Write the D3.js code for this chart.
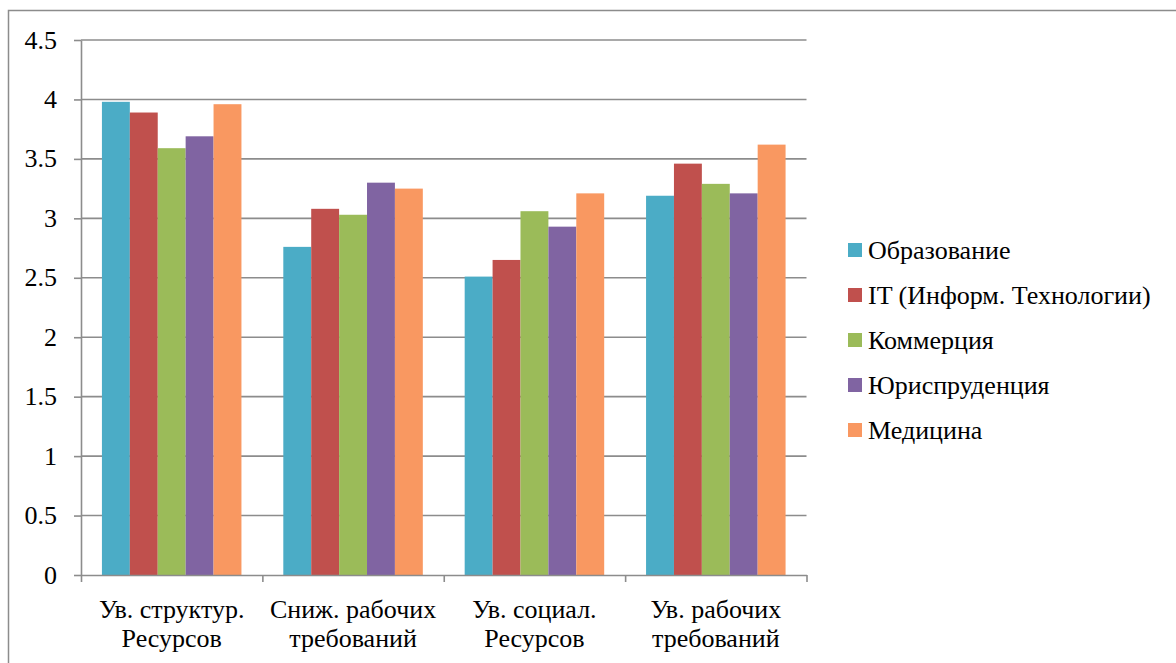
<!DOCTYPE html>
<html>
<head>
<meta charset="utf-8">
<script src="https://cdn.jsdelivr.net/npm/d3@7"></script>
</head>
<body style="margin:0">
<svg id="s" width="1176" height="663"></svg>
<script>
// Categories (two-line labels) and series
const categories = [
  ["Ув. структур.", "Ресурсов"],
  ["Сниж. рабочих", "требований"],
  ["Ув. социал.", "Ресурсов"],
  ["Ув. рабочих", "требований"]
];
const seriesNames = ["Образование", "IT (Информ. Технологии)", "Коммерция", "Юриспруденция", "Медицина"];
const seriesColors = ["#4BACC6", "#C0504D", "#9BBB59", "#8064A2", "#F99861"];

const education   = [3.98, 2.76, 2.51, 3.19];
const itTech      = [3.89, 3.08, 2.65, 3.46];
const commerce    = [3.59, 3.03, 3.06, 3.29];
const law         = [3.69, 3.30, 2.93, 3.21];
const medicine    = [3.96, 3.25, 3.21, 3.62];
const seriesValues = [education, itTech, commerce, law, medicine];

const yTicks = [0, 0.5, 1, 1.5, 2, 2.5, 3, 3.5, 4, 4.5];
const yTickLabels = ["0", "0.5", "1", "1.5", "2", "2.5", "3", "3.5", "4", "4.5"];

const FONT = '26px "Liberation Serif"';

const svg = d3.select("#s");
const plot = { left: 81, right: 806.5, top: 40, bottom: 575 };
const gridColor = "#8c8c8c";

// Outer frame
svg.append("rect")
  .attr("x", 8.5).attr("y", 10.5)
  .attr("width", 1300).attr("height", 800)
  .attr("fill", "none").attr("stroke", gridColor).attr("stroke-width", 1.5);

const x0 = d3.scaleBand()
  .domain(d3.range(categories.length))
  .range([plot.left, plot.right])
  .paddingInner(0).paddingOuter(0);

// 150% gap width between groups
const gapRatio = 1.5;
const barW = x0.bandwidth() / (seriesNames.length + gapRatio);
const x1 = d3.scaleBand()
  .domain(d3.range(seriesNames.length))
  .range([barW * gapRatio / 2, barW * gapRatio / 2 + barW * seriesNames.length])
  .padding(0);

const y = d3.scaleLinear().domain([0, 4.5]).range([plot.bottom, plot.top]);

// Horizontal gridlines
svg.append("g")
  .selectAll("line")
  .data(yTicks.filter(t => t > 0))
  .join("line")
  .attr("x1", plot.left).attr("x2", plot.right)
  .attr("y1", d => y(d)).attr("y2", d => y(d))
  .attr("stroke", gridColor).attr("stroke-width", 1.6);

// Bars
const groups = svg.append("g")
  .selectAll("g")
  .data(categories.map((c, i) => i))
  .join("g")
  .attr("transform", i => `translate(${x0(i)},0)`);

groups.selectAll("rect")
  .data(ci => seriesValues.map((vals, si) => ({ si, v: vals[ci] })))
  .join("rect")
  .attr("x", d => x1(d.si))
  .attr("width", x1.bandwidth())
  .attr("y", d => y(d.v))
  .attr("height", d => y(0) - y(d.v))
  .attr("fill", d => seriesColors[d.si]);

// Y axis line and ticks
const yg = svg.append("g").attr("transform", `translate(${plot.left},0)`)
  .call(d3.axisLeft(y).tickValues(yTicks).tickFormat("").tickSize(7).tickSizeOuter(0));
yg.selectAll("path, line").attr("stroke", gridColor).attr("stroke-width", 1.6);

// Y tick labels, right-aligned
svg.selectAll("text.ylab")
  .data(yTicks)
  .join("text")
  .attr("class", "ylab")
  .attr("x", 57)
  .attr("y", d => y(d) + 8.5)
  .attr("text-anchor", "end")
  .style("font", FONT)
  .text((d, i) => yTickLabels[i]);

// X axis with tick marks at category boundaries
const xBound = d3.scaleLinear().domain([0, categories.length]).range([plot.left, plot.right]);
const xg = svg.append("g").attr("transform", `translate(0,${plot.bottom})`)
  .call(d3.axisBottom(xBound).tickValues(d3.range(categories.length + 1)).tickFormat("").tickSize(7).tickSizeOuter(0));
xg.selectAll("path, line").attr("stroke", gridColor).attr("stroke-width", 1.6);

// Category labels, two centred lines each
const catLines = categories.flatMap((lines, ci) => lines.map((text, li) => ({ ci, li, text })));
svg.selectAll("text.cat")
  .data(catLines)
  .join("text")
  .attr("class", "cat")
  .attr("x", d => x0(d.ci) + x0.bandwidth() / 2)
  .attr("y", d => 618 + d.li * 29)
  .attr("text-anchor", "middle")
  .style("font", FONT)
  .text(d => d.text);

// Legend
const legendY = d3.scalePoint().domain(seriesNames).range([250, 430]);
svg.selectAll("rect.key")
  .data(seriesNames)
  .join("rect")
  .attr("class", "key")
  .attr("x", 848).attr("y", d => legendY(d) - 7)
  .attr("width", 14).attr("height", 14)
  .attr("fill", (d, i) => seriesColors[i]);
svg.selectAll("text.key")
  .data(seriesNames)
  .join("text")
  .attr("class", "key")
  .attr("x", 868)
  .attr("y", d => legendY(d) + 9)
  .style("font", FONT)
  .text(d => d);
</script>
</body>
</html>
